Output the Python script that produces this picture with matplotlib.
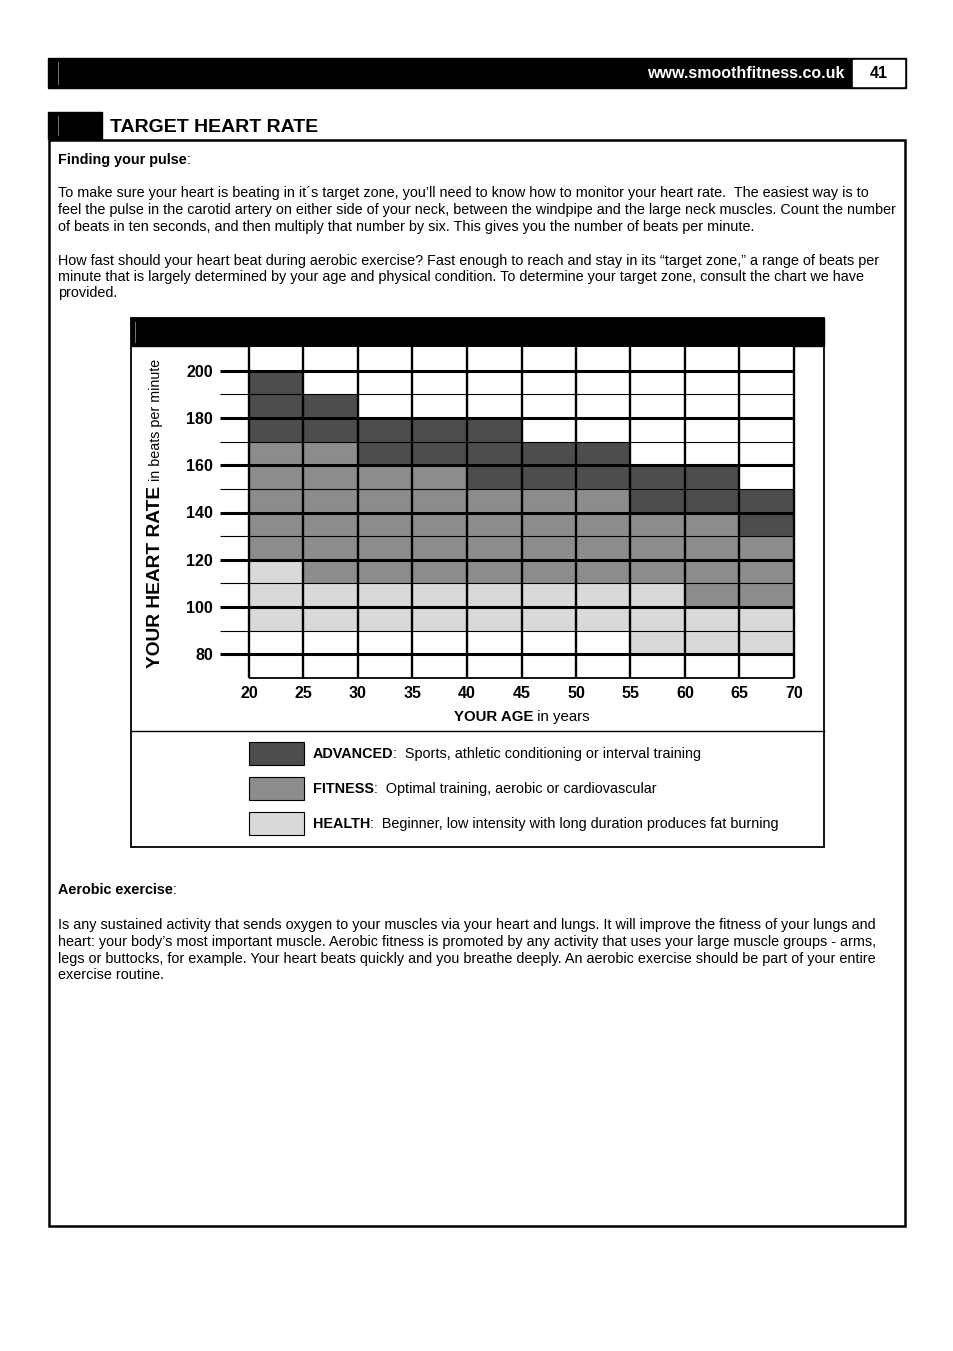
import matplotlib
matplotlib.use("Agg")
import matplotlib.pyplot as plt
from matplotlib.colors import ListedColormap
from matplotlib.patches import Rectangle

plt.rcParams['font.family'] = ['Liberation Sans', 'DejaVu Sans']

# ---- chart data ----
ages = [20, 25, 30, 35, 40, 45, 50, 55, 60, 65, 70]
bpm_edges = [70, 80, 90, 100, 110, 120, 130, 140, 150, 160, 170, 180, 190, 200, 210]
bpm_ticks = [80, 100, 120, 140, 160, 180, 200]
# zone of each cell: rows 70-80 bpm up to 200-210 bpm, columns = age bands
# 0 = none, 1 = health, 2 = fitness, 3 = advanced
zones = [
    [0, 0, 0, 0, 0, 0, 0, 0, 0, 0],
    [0, 0, 0, 0, 0, 0, 0, 1, 1, 1],
    [1, 1, 1, 1, 1, 1, 1, 1, 1, 1],
    [1, 1, 1, 1, 1, 1, 1, 1, 2, 2],
    [1, 2, 2, 2, 2, 2, 2, 2, 2, 2],
    [2, 2, 2, 2, 2, 2, 2, 2, 2, 2],
    [2, 2, 2, 2, 2, 2, 2, 2, 2, 3],
    [2, 2, 2, 2, 2, 2, 2, 3, 3, 3],
    [2, 2, 2, 2, 3, 3, 3, 3, 3, 0],
    [2, 2, 3, 3, 3, 3, 3, 0, 0, 0],
    [3, 3, 3, 3, 3, 0, 0, 0, 0, 0],
    [3, 3, 0, 0, 0, 0, 0, 0, 0, 0],
    [3, 0, 0, 0, 0, 0, 0, 0, 0, 0],
    [0, 0, 0, 0, 0, 0, 0, 0, 0, 0],
]
zone_colors = ['#ffffff', '#d9d9d9', '#8c8c8c', '#4d4d4d']
legend_names = ['ADVANCED', 'FITNESS', 'HEALTH']
legend_desc = [':  Sports, athletic conditioning or interval training',
               ':  Optimal training, aerobic or cardiovascular',
               ':  Beginner, low intensity with long duration produces fat burning']
legend_zone = [3, 2, 1]

para1 = ["To make sure your heart is beating in it\u00b4s target zone, you\u2019ll need to know how to monitor your heart rate.  The easiest way is to",
         "feel the pulse in the carotid artery on either side of your neck, between the windpipe and the large neck muscles. Count the number",
         "of beats in ten seconds, and then multiply that number by six. This gives you the number of beats per minute."]
para2 = ["How fast should your heart beat during aerobic exercise? Fast enough to reach and stay in its \u201ctarget zone,\u201d a range of beats per",
         "minute that is largely determined by your age and physical condition. To determine your target zone, consult the chart we have",
         "provided."]
para3 = ["Is any sustained activity that sends oxygen to your muscles via your heart and lungs. It will improve the fitness of your lungs and",
         "heart: your body\u2019s most important muscle. Aerobic fitness is promoted by any activity that uses your large muscle groups - arms,",
         "legs or buttocks, for example. Your heart beats quickly and you breathe deeply. An aerobic exercise should be part of your entire",
         "exercise routine."]

W, H = 954, 1351
fig = plt.figure(figsize=(W / 100, H / 100), dpi=100)
page = fig.add_axes([0, 0, 1, 1])
page.set_xlim(0, W)
page.set_ylim(H, 0)
page.axis('off')
r = fig.canvas.get_renderer()

BODY = 10.4


def rich(x, y, parts, size, center=False):
    texts = []
    cur = x
    for s, w in parts:
        t = page.text(cur, y, s, fontsize=size, fontweight=w, va='baseline', ha='left')
        cur += t.get_window_extent(r).width
        texts.append(t)
    if center:
        shift = (cur - x) / 2
        for t in texts:
            px, py = t.get_position()
            t.set_position((px - shift, py))
    return texts


# page header
page.add_patch(Rectangle((48, 58), 858, 30, color='black'))
page.add_patch(Rectangle((853, 60), 51, 26, color='white'))
page.plot([58, 58], [62, 84], color='#888888', lw=0.6)
page.text(845, 73, 'www.smoothfitness.co.uk', color='white', fontsize=11.5, fontweight='bold', ha='right', va='center')
page.text(879, 73, '41', color='black', fontsize=11.5, fontweight='bold', ha='center', va='center')

# section title + content box
page.add_patch(Rectangle((48, 112), 54, 27, color='black'))
page.plot([58, 58], [116, 135], color='#888888', lw=0.6)
page.text(110, 127, 'TARGET HEART RATE', fontsize=14, fontweight='bold', ha='left', va='center')
page.add_patch(Rectangle((49, 140), 856, 1086, fill=False, lw=1.8, ec='black'))

# text blocks
rich(58, 164, [('Finding your pulse', 'bold'), (':', 'normal')], BODY)
for i, line in enumerate(para1):
    page.text(58, 197.5 + i * 16.5, line, fontsize=BODY, va='baseline')
for i, line in enumerate(para2):
    page.text(58, 264.5 + i * 16.5, line, fontsize=BODY, va='baseline')
rich(58, 894.5, [('Aerobic exercise', 'bold'), (':', 'normal')], BODY)
for i, line in enumerate(para3):
    page.text(58, 929.5 + i * 16.5, line, fontsize=BODY, va='baseline')

# chart frame
page.add_patch(Rectangle((131, 318), 693, 529, fill=False, lw=1.3, ec='black'))
page.add_patch(Rectangle((131, 318), 693, 28, color='black'))
page.plot([135, 135], [322, 342], color='#888888', lw=0.6)
page.plot([131, 824], [731, 731], color='black', lw=1.0)

# heart-rate grid
ax = fig.add_axes([249 / W, 1 - 678 / H, 545 / W, 331 / H])
ax.pcolormesh(ages, bpm_edges, zones, cmap=ListedColormap(zone_colors), vmin=-0.5, vmax=3.5)
ax.set_xlim(20, 70)
ax.set_ylim(70, 210)
for s in ax.spines.values():
    s.set_visible(False)
x_left = 20 - 29 * 50 / 545
for b in bpm_edges[1:-1]:
    ax.plot([x_left, 70], [b, b], color='black', lw=2.2 if b % 20 == 0 else 0.8,
            clip_on=False, solid_capstyle='butt')
ax.plot([20, 70], [70, 70], color='black', lw=1.3, clip_on=False, solid_capstyle='butt')
for a in ages:
    ax.plot([a, a], [70, 210], color='black', lw=1.7, clip_on=False, solid_capstyle='butt')
ax.set_yticks(bpm_ticks)
ax.set_yticklabels([str(v) for v in bpm_ticks], fontsize=11.5, fontweight='bold')
ax.set_xticks(ages)
ax.set_xticklabels([str(v) for v in ages], fontsize=11.5, fontweight='bold')
ax.tick_params(axis='y', length=0, pad=26)
ax.tick_params(axis='x', length=0, pad=5.5)

# axis titles
t1 = page.text(160, 668, 'YOUR HEART RATE', fontsize=13.8, fontweight='bold', rotation=90,
               rotation_mode='anchor', ha='left', va='baseline')
h1 = t1.get_window_extent(r).height
page.text(160, 668 - h1 - 5, 'in beats per minute', fontsize=10.3, rotation=90,
          rotation_mode='anchor', ha='left', va='baseline')
rich(522, 721, [('YOUR AGE', 'bold'), (' in years', 'normal')], 10.8, center=True)

# legend
for i, (name, desc, z) in enumerate(zip(legend_names, legend_desc, legend_zone)):
    y = 742 + i * 35
    page.add_patch(Rectangle((249, y), 55, 23, fc=zone_colors[z], ec='black', lw=0.8))
    rich(313, y + 16, [(name, 'bold'), (desc, 'normal')], BODY)

fig.savefig('out.png', dpi=100)
